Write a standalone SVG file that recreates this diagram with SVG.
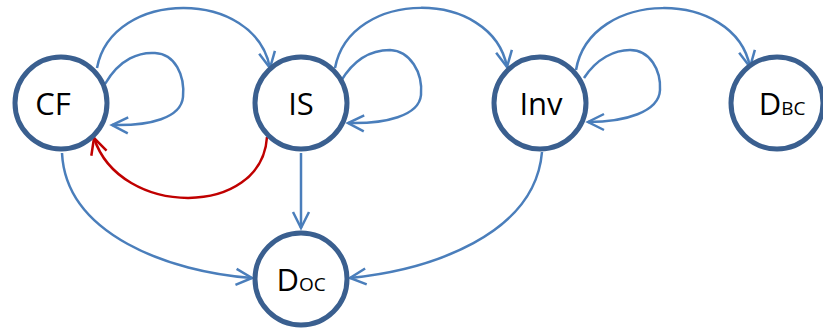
<svg xmlns="http://www.w3.org/2000/svg" width="823" height="329" viewBox="0 0 823 329">
  <style>
    .node circle { fill: #ffffff; stroke: #3A5F8F; stroke-width: 5; }
    .node text { font-family: "Open Sans", "Liberation Sans", sans-serif; font-size: 31px; fill: #000000; text-anchor: middle; }
    .node tspan.sub { font-size: 19px; }
    .edge { fill: none; stroke: #4A7EBB; stroke-width: 2.5; marker-end: url(#arrowBlue); }
    .edge.red { stroke: #C00000; marker-end: url(#arrowRed); }
  </style>
  <defs>
    <marker id="arrowBlue" markerUnits="userSpaceOnUse" markerWidth="20" markerHeight="20" refX="17" refY="9" orient="auto" overflow="visible">
      <path d="M1,1 L17,9 L1,17" fill="none" stroke="#4A7EBB" stroke-width="2.5"/>
    </marker>
    <marker id="arrowRed" markerUnits="userSpaceOnUse" markerWidth="20" markerHeight="20" refX="17" refY="9" orient="auto" overflow="visible">
      <path d="M1,1 L17,9 L1,17" fill="none" stroke="#C00000" stroke-width="2.5"/>
    </marker>
  </defs>

  <!-- connectors -->
  <g id="edges">
    <path class="edge" d="M97,68 C112,-12 255,-12 270,68"/>
    <path class="edge" d="M335,68 C350,-12 492,-12 507,67"/>
    <path class="edge" d="M576,70 C590,-12 735,-12 750,67"/>
    <path class="edge" d="M105,84 C120,58 140,52 155,53 C175,54 185,75 183,97 C181,118 150,126 112,125"/>
    <path class="edge" d="M341,81 C356,56 375,50 390,50 C410,51 423,72 421,95 C419,116 385,124 348,123"/>
    <path class="edge" d="M584,78 C597,58 615,50 630,50 C650,50 661,70 660,90 C659,112 625,122 588,122"/>
    <path class="edge red" d="M267,137 C262,218 120,218 94,138"/>
    <path class="edge" d="M301,153 L301,228"/>
    <path class="edge" d="M62,153 C66,235 170,272 252,278"/>
    <path class="edge" d="M542,152 C535,235 430,270 350,278"/>
  </g>

  <!-- nodes -->
  <g id="CF" class="node">
    <circle cx="61" cy="103" r="46"/>
    <text x="53" y="115">CF</text>
  </g>
  <g id="IS" class="node">
    <circle cx="301" cy="103" r="46"/>
    <text x="301" y="115">IS</text>
  </g>
  <g id="Inv" class="node">
    <circle cx="540" cy="103" r="46"/>
    <text x="541" y="115">Inv</text>
  </g>
  <g id="DBC" class="node">
    <circle cx="777" cy="103" r="46"/>
    <text x="782" y="115">D<tspan class="sub">BC</tspan></text>
  </g>
  <g id="DOC" class="node">
    <circle cx="301" cy="279" r="46"/>
    <text x="301" y="291">D<tspan class="sub">OC</tspan></text>
  </g>
</svg>
